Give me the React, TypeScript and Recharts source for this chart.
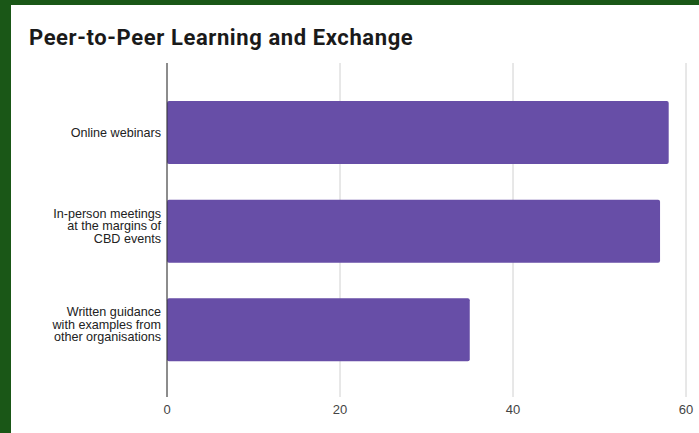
import { BarChart, Bar, XAxis, YAxis, CartesianGrid } from "recharts"

const categories = [
  "Online webinars",
  "In-person meetings at the margins of CBD events",
  "Written guidance with examples from other organisations",
]

const labelLines = [
  ["Online webinars"],
  ["In-person meetings", "at the margins of", "CBD events"],
  ["Written guidance", "with examples from", "other organisations"],
]

const values = [58, 57, 35]

const xTicks = [0, 20, 40, 60]

const data = categories.map((name, i) => ({ name, value: values[i] }))

const FONT = "'Liberation Sans', Arial, sans-serif"

function CategoryTick({ x, y, payload }: any) {
  const idx = categories.indexOf(payload.value)
  const lines = labelLines[idx] ?? [payload.value]
  const lineH = 12.6
  const start = -(lines.length - 1) * 9 + 4.5
  return (
    <text x={x + 2} y={y} textAnchor="end" fontSize={12.6} fill="#222" fontFamily={FONT}>
      {lines.map((l, i) => (
        <tspan key={i} x={x + 2} dy={i === 0 ? start : lineH}>
          {l}
        </tspan>
      ))}
    </text>
  )
}

export default function App() {
  return (
    <div style={{ position: "relative", width: 699, height: 433, background: "#1a5717", overflow: "hidden" }}>
      <style>{"body{margin:0}"}</style>
      <div style={{ position: "absolute", left: 11, top: 5, width: 688, height: 428, background: "#fff" }} />
      <div
        style={{
          position: "absolute",
          left: 29,
          top: 25,
          fontFamily: "Roboto, Arial, sans-serif",
          fontWeight: 700,
          fontSize: 22,
          letterSpacing: 0.6,
          color: "#1a1a1a",
          whiteSpace: "nowrap",
        }}
      >
        Peer-to-Peer Learning and Exchange
      </div>
      <div style={{ position: "absolute", left: 0, top: 0 }}>
        <BarChart
          width={699}
          height={433}
          data={data}
          layout="vertical"
          margin={{ top: 63, right: 13, bottom: 6, left: 7 }}
          barSize={63}
        >
          <CartesianGrid horizontal={false} stroke="#d0d0d0" />
          <XAxis
            type="number"
            domain={[0, 60]}
            ticks={xTicks}
            axisLine={false}
            tickLine={false}
            height={30}
            tick={{ fill: "#444", fontSize: 13, fontFamily: FONT }}
          />
          <YAxis
            type="category"
            dataKey="name"
            width={160}
            padding={{ top: 20, bottom: 18 }}
            axisLine={{ stroke: "#333" }}
            tickLine={false}
            tick={<CategoryTick />}
            interval={0}
          />
          <Bar dataKey="value" fill="#674ea7" radius={2} isAnimationActive={false} />
        </BarChart>
      </div>
    </div>
  )
}
